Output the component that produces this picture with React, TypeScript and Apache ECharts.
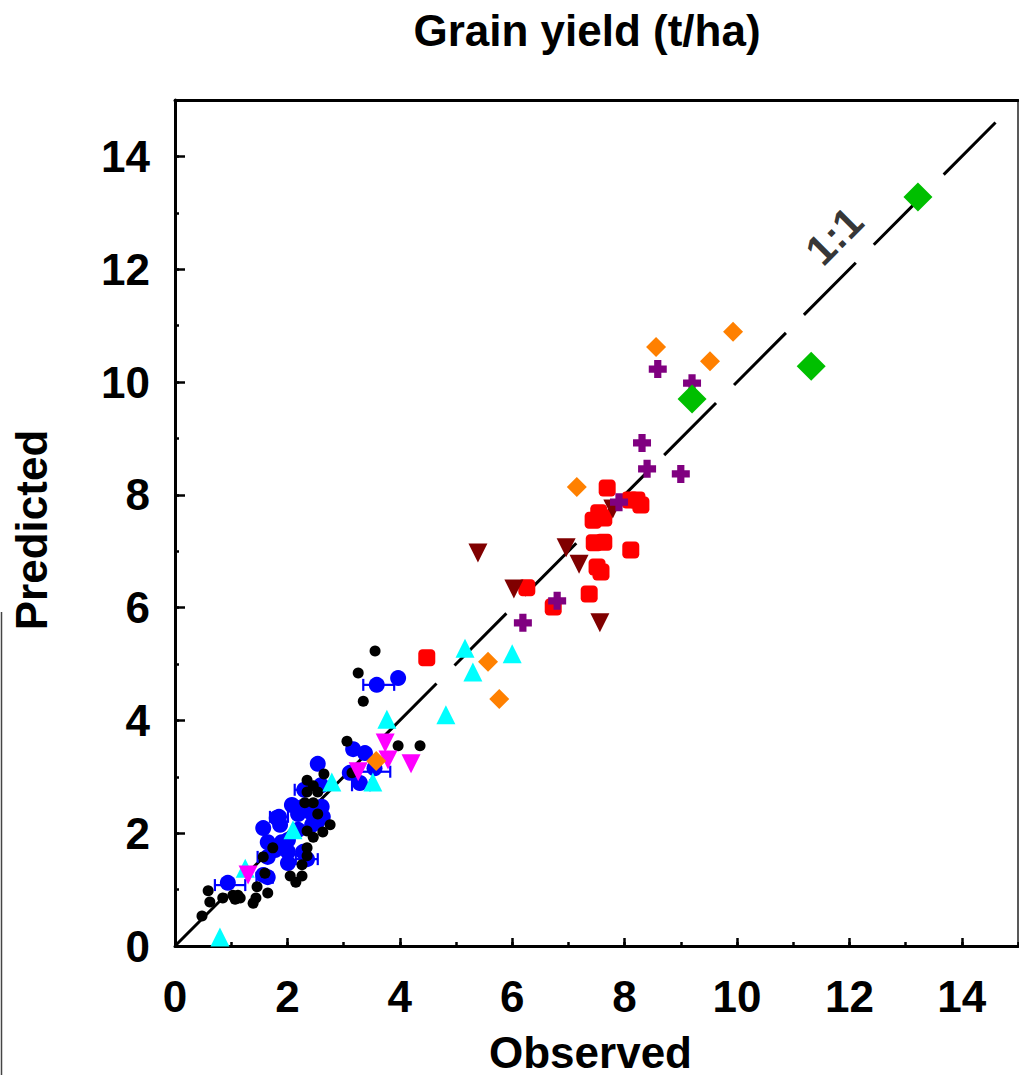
import React, { useEffect, useRef } from "react";
import * as echarts from "echarts";

const FONT = "'Liberation Sans', Arial, Helvetica, sans-serif";

const xTicks = [0, 2, 4, 6, 8, 10, 12, 14];
const yTicks = [0, 2, 4, 6, 8, 10, 12, 14];

const oneToOne = [
  [0, 0],
  [14.6, 14.6],
];
const oneToOneLabel = [[11.73, 12.59]];

const blackDots = [
  [3.56, 5.23], [3.26, 4.84], [3.35, 4.34], [3.06, 3.63], [3.97, 3.55], [4.36, 3.55], [3.15, 3.07],
  [2.65, 3.05], [2.35, 2.94], [2.46, 2.84], [2.35, 2.73], [2.54, 2.73], [2.31, 2.54], [2.46, 2.54],
  [2.54, 2.34], [2.76, 2.15], [2.63, 2.02], [2.35, 2.04], [2.46, 1.93], [1.74, 1.74], [2.35, 1.74],
  [1.57, 1.58], [2.35, 1.6], [2.26, 1.44], [1.6, 1.29], [2.05, 1.24], [2.26, 1.24], [2.15, 1.13],
  [1.46, 1.05], [1.65, 0.94], [0.59, 0.98], [0.62, 0.78], [0.85, 0.85], [1.03, 0.9], [1.12, 0.9],
  [1.07, 0.83], [1.16, 0.85], [1.44, 0.85], [1.39, 0.76], [0.48, 0.53],
];

const blueCircles = [
  [3.59, 4.63], [3.97, 4.75], [3.17, 3.49], [3.38, 3.42], [2.54, 3.23], [3.11, 3.07], [3.29, 2.89],
  [3.55, 3.15], [2.3, 2.77], [2.6, 2.85], [2.08, 2.5], [2.26, 2.46], [2.4, 2.38], [2.61, 2.47],
  [2.63, 2.29], [2.19, 2.34], [2.49, 2.23], [1.81, 2.27], [1.87, 2.15], [1.57, 2.09], [2.19, 2.06],
  [2.44, 2.15], [2.53, 2.2], [1.65, 1.84], [1.9, 1.84], [2.01, 1.88], [1.78, 1.7], [2.01, 1.67],
  [2.28, 1.67], [2.01, 1.47], [1.57, 1.26], [0.94, 1.12], [1.85, 2.29], [2.35, 1.54], [1.65, 1.58],
  [1.65, 1.22],
];

// [x, y, xLow, xHigh]
const blueErrorBars = [
  [3.59, 4.63, 3.35, 3.9],
  [3.55, 3.09, 3.29, 3.83],
  [3.29, 2.85, 3.15, 3.47],
  [2.33, 2.77, 2.13, 2.54],
  [1.85, 2.29, 1.69, 2.01],
  [2.35, 1.54, 2.15, 2.54],
  [1.63, 1.58, 1.47, 1.72],
  [1.63, 1.21, 1.45, 1.74],
  [0.94, 1.08, 0.71, 1.25],
];

const cyanTriangles = [
  [0.8, 0.16], [1.25, 1.38], [2.1, 2.06], [2.79, 2.91], [3.52, 2.91], [3.77, 4.02],
  [4.82, 4.1], [5.16, 5.28], [5.3, 4.86], [6.0, 5.18],
];

const magentaDown = [
  [1.3, 1.26], [3.26, 3.09], [3.74, 3.6], [3.79, 3.3], [4.2, 3.23],
];

const orangeDiamonds = [
  [3.58, 3.28], [5.57, 5.04], [5.77, 4.38], [7.15, 8.14], [8.56, 10.62], [9.52, 10.37], [9.93, 10.89],
];

const redSquares = [
  [4.48, 5.11], [6.26, 6.35], [6.73, 6.01], [7.37, 6.24], [7.51, 6.72], [7.58, 6.63], [7.46, 7.15],
  [7.63, 7.16], [8.11, 7.02], [7.44, 7.55], [7.54, 7.68], [7.63, 7.59], [7.69, 8.12], [8.1, 7.91],
  [8.22, 7.91], [8.29, 7.82],
];

const maroonDown = [
  [5.39, 6.97], [6.96, 7.06], [6.03, 6.33], [7.19, 6.77], [7.79, 7.75], [7.56, 5.73],
];

const purpleCrosses = [
  [6.8, 6.12], [6.19, 5.73], [7.9, 7.87], [8.4, 8.46], [9.0, 8.37], [8.31, 8.92], [8.59, 10.23],
  [9.2, 9.98],
];

const greenDiamonds = [
  [9.2, 9.7], [11.32, 10.28], [13.22, 13.28],
];

const CROSS = "path://M3,0 H7 V3 H10 V7 H7 V10 H3 V7 H0 V3 H3 Z";

function scatter(name: string, data: number[][], symbol: string, size: number, color: string, rotate = 0, z = 3) {
  return {
    name,
    type: "scatter",
    data,
    symbol,
    symbolSize: size,
    symbolRotate: rotate,
    itemStyle: { color, opacity: 1 },
    z,
    xAxisIndex: 0,
    yAxisIndex: 0,
  };
}

export default function App() {
  const ref = useRef<HTMLDivElement>(null);

  useEffect(() => {
    if (!ref.current) return;
    const chart = echarts.init(ref.current, undefined, { renderer: "svg" });

    const labelStyle = { fontSize: 44, fontWeight: "bold", color: "#000", fontFamily: FONT };
    const tickLine = { color: "#000", width: 2.5 };

    const option: any = {
      animation: false,
      backgroundColor: "#fff",
      grid: { left: 175, top: 100, right: 1, bottom: 129, containLabel: false, outerBoundsMode: "none" },
      graphic: [
        {
          type: "text",
          x: 587,
          y: 8,
          style: { text: "Grain yield (t/ha)", fontSize: 44, fontWeight: "bold", fontFamily: FONT, fill: "#000", textAlign: "center", textVerticalAlign: "top" },
        },
        {
          type: "line",
          shape: { x1: 1.5, y1: 612, x2: 1.5, y2: 1075 },
          style: { stroke: "#444", lineWidth: 1.5 },
        },
      ],
      xAxis: [
        {
          type: "value", min: 0, max: 15, interval: 2, position: "bottom",
          axisLine: { show: true, onZero: false, lineStyle: { color: "#000", width: 3 } },
          axisTick: { show: true, inside: true, length: 8, lineStyle: tickLine },
          axisLabel: {
            ...labelStyle, margin: 28, showMaxLabel: false,
            formatter: (v: number) => (xTicks.includes(v) ? String(v) : ""),
          },
          splitLine: { show: false },
          name: "Observed", nameLocation: "middle", nameGap: 84,
          nameTextStyle: { ...labelStyle, padding: [0, 12, 0, 0] },
        },
        {
          type: "value", min: 0, max: 15, interval: 1, position: "bottom",
          axisLine: { show: false, onZero: false },
          axisTick: { show: true, inside: true, length: 4, lineStyle: tickLine },
          axisLabel: { show: false }, splitLine: { show: false },
        },
        {
          type: "value", min: 0, max: 15, position: "top",
          axisLine: { show: true, onZero: false, lineStyle: { color: "#000", width: 3 } },
          axisTick: { show: false }, axisLabel: { show: false }, splitLine: { show: false },
        },
      ],
      yAxis: [
        {
          type: "value", min: 0, max: 15, interval: 2, position: "left",
          axisLine: { show: true, onZero: false, lineStyle: { color: "#000", width: 3 } },
          axisTick: { show: true, inside: true, length: 10, lineStyle: tickLine },
          axisLabel: {
            ...labelStyle, margin: 25, showMaxLabel: false,
            formatter: (v: number) => (yTicks.includes(v) ? String(v) : ""),
          },
          splitLine: { show: false },
          name: "Predicted", nameLocation: "middle", nameGap: 122,
          nameTextStyle: { ...labelStyle, padding: [0, 14, 0, 0] },
        },
        {
          type: "value", min: 0, max: 15, interval: 1, position: "left",
          axisLine: { show: false, onZero: false },
          axisTick: { show: true, inside: true, length: 4, lineStyle: tickLine },
          axisLabel: { show: false }, splitLine: { show: false },
        },
        {
          type: "value", min: 0, max: 15, position: "right",
          axisLine: { show: true, onZero: false, lineStyle: { color: "#222", width: 1.5 } },
          axisTick: { show: false }, axisLabel: { show: false }, splitLine: { show: false },
        },
      ],
      series: [
        {
          type: "line",
          data: oneToOne,
          symbol: "none",
          xAxisIndex: 0,
          yAxisIndex: 0,
          lineStyle: { color: "#000", width: 3, type: [73.5, 25.5], dashOffset: 0 },
          z: 1,
          silent: true,
        },
        {
          type: "scatter",
          data: oneToOneLabel,
          symbolSize: 1,
          itemStyle: { color: "rgba(0,0,0,0)" },
          label: {
            show: true, position: "inside", formatter: "1:1", rotate: 45,
            fontSize: 42, fontWeight: "bold", color: "#000", fontFamily: FONT,
          },
          xAxisIndex: 0,
          yAxisIndex: 0,
          z: 2,
        },
        {
          type: "custom",
          data: blueErrorBars,
          xAxisIndex: 0,
          yAxisIndex: 0,
          z: 2,
          encode: { x: 0, y: 1 },
          renderItem: (params: any, api: any) => {
            const y = api.value(1);
            const lo = api.coord([api.value(2), y]);
            const hi = api.coord([api.value(3), y]);
            const h = 6;
            const st = { stroke: "#0000ff", lineWidth: 2.2 };
            return {
              type: "group",
              children: [
                { type: "line", shape: { x1: lo[0], y1: lo[1], x2: hi[0], y2: hi[1] }, style: st },
                { type: "line", shape: { x1: lo[0], y1: lo[1] - h, x2: lo[0], y2: lo[1] + h }, style: st },
                { type: "line", shape: { x1: hi[0], y1: hi[1] - h, x2: hi[0], y2: hi[1] + h }, style: st },
              ],
            };
          },
        },
        scatter("blue", blueCircles, "circle", 16, "#0000ff", 0, 3),
        scatter("black", blackDots, "circle", 11, "#000000", 0, 4),
        scatter("cyan", cyanTriangles, "triangle", 19, "#00ffff", 0, 5),
        scatter("magenta", magentaDown, "triangle", 19, "#ff00ff", 180, 5),
        scatter("orange", orangeDiamonds, "diamond", 20, "#ff8000", 0, 5),
        scatter("red", redSquares, "roundRect", 17, "#ff0000", 0, 5),
        scatter("maroon", maroonDown, "triangle", 19, "#800000", 180, 6),
        scatter("purple", purpleCrosses, CROSS, 18, "#800080", 0, 6),
        scatter("green", greenDiamonds, "diamond", 29, "#00bf00", 0, 6),
      ],
    };

    chart.setOption(option);
    return () => chart.dispose();
  }, []);

  return (
    <div
      ref={ref}
      style={{ position: "absolute", left: 0, top: 0, width: 1019, height: 1075, background: "#fff" }}
    />
  );
}
